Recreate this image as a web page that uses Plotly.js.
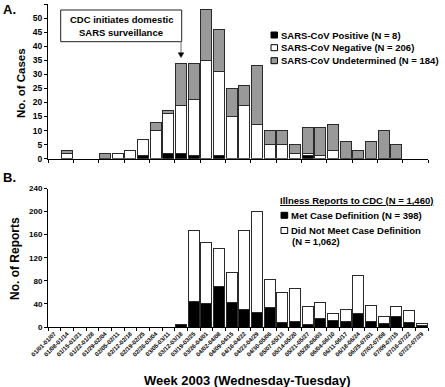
<!DOCTYPE html>
<html><head><meta charset="utf-8">
<script src="https://cdn.plot.ly/plotly-3.0.1.min.js"></script>
<style>html,body{margin:0;padding:0;background:#fff}#chart{width:445px;height:387px}</style>
</head><body><div id="chart"></div>
<script>
const weeks = ["01/01-01/07","01/08-01/14","01/15-01/21","01/22-01/28","01/29-02/04","02/05-02/11","02/12-02/18","02/19-02/25","02/26-03/04","03/05-03/11","03/12-03/18","03/19-03/25","03/26-04/01","04/02-04/08","04/09-04/15","04/16-04/22","04/23-04/29","04/30-05/06","05/07-05/13","05/14-05/20","05/21-05/27","05/28-06/03","06/04-06/10","06/11-06/17","06/18-06/24","06/25-07/01","07/02-07/08","07/09-07/15","07/16-07/22","07/23-07/29"];

// Panel A: SARS cases
const sarsPositive     = [0,0,0,0,0,0,0,1,0,2,2,1,0,1,0,0,0,0,0,0,1,0,0,0,0,0,0,0,0,0];
const sarsNegative     = [0,2,0,0,0,2,3,6,10,14,17,20,35,30,15,19,12,5,5,2,1,1,3,0,0,0,0,0,0,0];
const sarsUndetermined = [0,1,0,0,2,0,0,0,3,1,15,13,18,15,10,7,21,5,5,3,9,10,9,6,3,6,10,5,0,0];

// Panel B: Illness reports
const metCaseDef    = [0,0,0,0,0,0,0,0,0,0,4,45,41,70,43,31,25,33,8,10,5,15,11,9,23,10,6,18,8,2];
const notMetCaseDef = [0,0,0,0,0,0,0,0,0,0,1,123,105,66,52,137,175,50,51,57,30,28,13,21,66,28,13,17,20,4];

const FONT = 'Arial, "Liberation Sans", sans-serif';
const W = 445, H = 387, M = {l:48, r:17, t:4, b:60};
const pw = W - M.l - M.r, ph = H - M.t - M.b;
const px = x => (x - M.l) / pw;
const py = y => (H - M.b - y) / ph;
const nz = a => a.map(v => v === 0 ? null : v);
const outline = {color:'#2a2a2a', width:1};

function bar(vals, color, xa, ya, name){
  return {type:'bar', x:weeks, y:nz(vals), name:name, xaxis:xa, yaxis:ya,
    marker:{color:color, line:outline}, hoverinfo:'skip', showlegend:false};
}

const data = [
  bar(sarsPositive, '#000000', 'x', 'y', 'SARS-CoV Positive'),
  bar(sarsNegative, '#ffffff', 'x', 'y', 'SARS-CoV Negative'),
  bar(sarsUndetermined, '#999999', 'x', 'y', 'SARS-CoV Undetermined'),
  bar(metCaseDef, '#000000', 'x2', 'y2', 'Met Case Definition'),
  bar(notMetCaseDef, '#ffffff', 'x2', 'y2', 'Did Not Meet Case Definition')
];

const xbase = {type:'category', categoryorder:'array', categoryarray:weeks, range:[-0.5,29.5],
  showline:true, linecolor:'#000', linewidth:1, ticks:'outside', tickson:'boundaries',
  ticklen:3, tickcolor:'#000', showgrid:false, zeroline:false, fixedrange:true};
const ybase = {ticks:'outside', ticklen:3, tickcolor:'#000', showline:true, linecolor:'#000',
  linewidth:1, showgrid:false, zeroline:false, fixedrange:true, tick0:0};

function txt(x, y, text, size, opts){
  return Object.assign({xref:'paper', yref:'paper', x:px(x), y:py(y), text:text, showarrow:false,
    xanchor:'left', yanchor:'middle', borderpad:0,
    font:{family:FONT, size:size, color:'#000', weight:'bold'}}, opts||{});
}
function rect(x0, y0, x1, y1, fill){
  return {type:'rect', xref:'paper', yref:'paper', x0:px(x0), x1:px(x1), y0:py(y1), y1:py(y0),
    fillcolor:fill, line:{color:'#000', width:1}};
}

const LG = 9.5;
const annotations = [
  txt(2, 10, 'A.', 13),
  txt(2, 177, 'B.', 13),
  txt(21, 83, 'No. of Cases', 11.5, {xanchor:'center', textangle:-90}),
  txt(15, 259, 'No. of Reports', 12, {xanchor:'center', textangle:-90}),
  txt(247, 380, 'Week 2003 (Wednesday-Tuesday)', 13, {xanchor:'center'}),
  txt(121, 19.5, 'CDC initiates domestic', 9.5, {xanchor:'center'}),
  txt(121, 32, 'SARS surveillance', 9.5, {xanchor:'center'}),
  txt(279.5, 35, 'SARS-CoV Positive (N = 8)', LG),
  txt(279.5, 47.7, 'SARS-CoV Negative (N = 206)', LG),
  txt(279.5, 60.7, 'SARS-CoV Undetermined (N = 184)', LG),
  txt(279, 200.7, '<u>Illness Reports to CDC (N = 1,460)</u>', LG),
  txt(289.5, 215, 'Met Case Definition (N = 398)', LG),
  txt(289.5, 230.7, 'Did Not Meet Case Definition', LG),
  txt(291, 241.7, '(N = 1,062)', LG)
];

const shapes = [
  {type:'rect', xref:'paper', yref:'paper', x0:px(60.7), x1:px(181.7), y0:py(41.7), y1:py(10),
    fillcolor:'#fff', line:{color:'#222', width:1}},
  {type:'line', xref:'paper', yref:'paper', x0:px(181), x1:px(181), y0:py(41.7), y1:py(53.3),
    line:{color:'#888', width:1.2}},
  {type:'path', xref:'paper', yref:'paper',
    path:'M'+px(178.2)+','+py(52.8)+' L'+px(183.8)+','+py(52.8)+' L'+px(181)+','+py(57.5)+' Z',
    fillcolor:'#000', line:{color:'#000', width:0.5}},
  rect(271, 32, 277.5, 38, '#000'),
  rect(271, 44.7, 277.5, 50.7, '#fff'),
  rect(271, 57.7, 277.5, 63.7, '#999'),
  rect(281, 212.3, 287.7, 218.3, '#000'),
  rect(281, 227.5, 287.7, 233.5, '#fff')
];

const layout = {
  width:W, height:H, margin:M, paper_bgcolor:'#fff', plot_bgcolor:'#fff',
  barmode:'stack', bargap:0.13, showlegend:false,
  font:{family:FONT, color:'#000'},
  xaxis:Object.assign({}, xbase, {anchor:'y', domain:[0,1], showticklabels:false}),
  yaxis:Object.assign({}, ybase, {anchor:'x', domain:[py(158.7),1], range:[0,55], dtick:5,
    tickfont:{family:FONT, size:8.5, weight:'bold', color:'#000'}}),
  xaxis2:Object.assign({}, xbase, {anchor:'y2', domain:[0,1], tickangle:-45,
    tickfont:{family:FONT, size:6, weight:'bold', color:'#000'}}),
  yaxis2:Object.assign({}, ybase, {anchor:'x2', domain:[0,py(188.5)], range:[0,240], dtick:40,
    tickfont:{family:FONT, size:8, weight:'bold', color:'#000'}}),
  annotations:annotations, shapes:shapes
};

Plotly.newPlot('chart', data, layout, {displayModeBar:false, staticPlot:true});
</script>
</body></html>
